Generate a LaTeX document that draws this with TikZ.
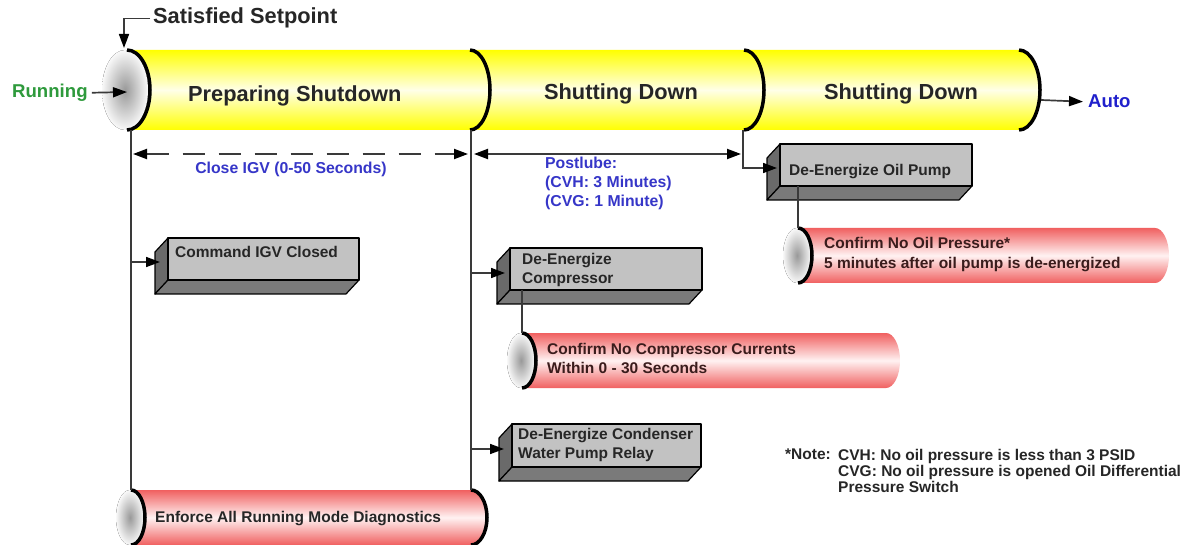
\documentclass[tikz,border=0pt]{standalone}
\usepackage{fontspec}
\setmainfont{Liberation Sans}
\usetikzlibrary{arrows.meta}
\definecolor{yel}{HTML}{FFFF00}
\definecolor{yellite}{HTML}{FFFFE8}
\definecolor{redc}{HTML}{F06060}
\definecolor{redlite}{HTML}{FFF2F2}
\definecolor{boxfront}{HTML}{C2C2C2}
\definecolor{boxside}{HTML}{6A6A6A}
\definecolor{boxbot}{HTML}{7A7A7A}
\definecolor{txt}{HTML}{262626}
\definecolor{redtxt}{HTML}{3A1C1C}
\definecolor{grn}{HTML}{2E9A3C}
\definecolor{blu}{HTML}{2020CC}
\definecolor{lblu}{HTML}{3636C8}
\definecolor{lin}{HTML}{3A3A3A}
\newcommand{\cylbody}[8]{%
 \path[#8] (#1,#3) -- (#2,#3) arc[start angle=-90,end angle=90,x radius=#6,y radius=#7] -- (#1,#4) arc[start angle=90,end angle=-90,x radius=#5,y radius=#7] -- cycle;}
\newcommand{\cylcap}[4]{%
 \fill[capshade] (#1,#2) ellipse[x radius=#3,y radius=#4];}
\newcommand{\cylarc}[4]{%
 \draw[line width=3.5pt] (#1,#2) arc[start angle=-90,end angle=90,x radius=#3,y radius=#4];}
\newcommand{\gbox}[4]{%
 \filldraw[boxedge,fill=boxside] (#1,#2) -- (#1-13,#2+14) -- (#1-13,#4+14) -- (#1,#4) -- cycle;
 \filldraw[boxedge,fill=boxbot] (#1,#4) -- (#3,#4) -- (#3-13,#4+14) -- (#1-13,#4+14) -- cycle;
 \filldraw[boxedge,fill=boxfront] (#1,#2) rectangle (#3,#4);}
\tikzset{
 capshade/.style={inner color=gray!80,outer color=gray!5},
 yelshade/.style={top color=yel,bottom color=yel,middle color=yellite},
 redshade/.style={top color=redc,bottom color=redc,middle color=redlite},
 boxedge/.style={draw=black,line width=1.2pt,line join=round},
 conn/.style={draw=lin,line width=1.7pt},
 tip/.style={-{Triangle[length=14pt,width=10pt,color=black]}},
 dimline/.style={draw=lin,line width=2pt,{Triangle[length=14pt,width=10pt,color=black]}-{Triangle[length=14pt,width=10pt,color=black]}},
 bigtxt/.style={inner sep=0pt,text=txt,font=\fontsize{21.8}{26}\selectfont\bfseries},
 sidetxt/.style={inner sep=0pt,font=\fontsize{18.6}{22}\selectfont\bfseries},
 lbl/.style={inner sep=0pt,text=lblu,font=\fontsize{15.8}{19}\selectfont\bfseries,align=left},
 boxtxt/.style={inner sep=0pt,text=txt,font=\fontsize{15.5}{19}\selectfont\bfseries,align=left},
 redtext/.style={inner sep=0pt,text=redtxt,font=\fontsize{15.5}{19}\selectfont\bfseries,align=left},
 notetxt/.style={inner sep=0pt,text=txt,font=\fontsize{15.5}{16}\selectfont\bfseries,align=left}
}
\begin{document}
\begin{tikzpicture}[x=1pt,y=-1pt]
\useasboundingbox (0,0) rectangle (1186,545);
\fill[white] (0,0) rectangle (1186,545);
% ---- main timeline cylinder
\cylbody{127}{1019}{50}{130}{23}{21}{40}{yelshade}
\cylcap{125}{90}{23}{40}
\cylarc{127}{50}{23}{40}
\cylarc{470}{50}{20}{40}
\cylarc{744}{50}{20}{40}
\cylarc{1019}{50}{21}{40}
\coordinate (spTip) at (124,48);
\coordinate (runTip) at (127,92);
\coordinate (endR) at (1041,100);
\coordinate (s1b) at (131,130);
\coordinate (s2b) at (471,130);
\coordinate (s3b) at (743,130);
% ---- stage labels
\node[bigtxt,anchor=base west] (sp) at (153,24) {Satisfied Setpoint};
\node[bigtxt,anchor=base west] (prep) at (188,102) {Preparing Shutdown};
\node[bigtxt,anchor=base] (sd1) at (621,100) {Shutting Down};
\node[bigtxt,anchor=base] (sd2) at (901,100) {Shutting Down};
\node[sidetxt,text=grn,anchor=base west] (run) at (12,97.5) {Running};
\node[sidetxt,text=blu,anchor=base west] (auto) at (1088,108) {Auto};
\draw[conn,tip] ([xshift=-3pt]sp.west) -| (spTip);
\draw[conn,tip] ([xshift=4pt]run.east) -- (runTip);
\draw[conn,tip] (endR) -- ([xshift=-5pt]auto.west);
% ---- dimension arrows
\coordinate (d1a) at (133,154);
\coordinate (d1b) at (468,154);
\coordinate (d2a) at (474,154);
\coordinate (d2b) at (741,154);
\draw[dimline,dash pattern=on 22pt off 14pt] (d1a) -- (d1b);
\draw[dimline] (d2a) -- (d2b);
\node[lbl,anchor=base] (igv) at (291,173.5) {Close IGV (0-50 Seconds)};
\node[lbl,anchor=north west] (post) at (545,157) {Postlube:\\(CVH: 3 Minutes)\\(CVG: 1 Minute)};
% ---- bottom red cylinder
\cylbody{131}{471}{490}{545}{14}{16}{27.5}{redshade}
\cylcap{130}{517.5}{14}{27.5}
\cylarc{131}{490}{14}{27.5}
\cylarc{471}{490}{16}{27.5}
\coordinate (enfL) at (131,490);
\coordinate (enfR) at (471,490);
\node[boxtxt,anchor=base west] (enf) at (155,522.5) {Enforce All Running Mode Diagnostics};
% ---- compressor red cylinder
\cylbody{522}{886}{333}{388}{14}{14}{27.5}{redshade}
\cylcap{521}{360.5}{14}{27.5}
\cylarc{522}{333}{14}{27.5}
\coordinate (ccT) at (522,333);
\node[redtext,anchor=north west] (cc) at (547,343.5) {Confirm No Compressor Currents\\Within 0 - 30 Seconds};
% ---- oil red cylinder
\cylbody{798}{1155}{228}{283}{14}{14}{27.5}{redshade}
\cylcap{797}{255.5}{14}{27.5}
\cylarc{798}{228}{14}{27.5}
\coordinate (opT) at (798,228);
\node[redtext,anchor=north west,font=\fontsize{15.5}{20}\selectfont\bfseries] (op) at (824,237.5) {Confirm No Oil Pressure*\\5 minutes after oil pump is de-energized};
% ---- vertical connectors
\draw[conn] (s1b) -- (enfL);
\draw[conn] (s2b) -- (enfR);
% ---- boxes
\gbox{168}{238}{359}{280}
\node[boxtxt,anchor=base west] (cmd) at (175,257.5) {Command IGV Closed};
\coordinate (cmdIn) at (160,262);
\gbox{510}{248}{702}{290}
\node[boxtxt,anchor=north west] (comp) at (522,253.5) {De-Energize\\Compressor};
\coordinate (compIn) at (505,273);
\coordinate (compB) at (522,290);
\gbox{780}{144}{972}{186}
\node[boxtxt,anchor=base west] (oil) at (789,175.5) {De-Energize Oil Pump};
\coordinate (oilIn) at (777,168);
\coordinate (oilB) at (798,186);
\gbox{512}{424}{701}{467}
\node[boxtxt,anchor=north west] (cond) at (518,428.5) {De-Energize Condenser\\Water Pump Relay};
\coordinate (condIn) at (504,449);
% ---- box connectors
\draw[conn,tip] (s1b |- cmdIn) -- (cmdIn);
\draw[conn,tip] (s2b |- compIn) -- (compIn);
\draw[conn,tip] (s2b |- condIn) -- (condIn);
\draw[conn,tip] (s3b) |- (oilIn);
\draw[conn] (compB) -- (ccT);
\draw[conn] (oilB) -- (opT);
% ---- note
\node[notetxt,anchor=north west] (noteH) at (785,449) {*Note:};
\node[notetxt,anchor=north west] (noteB) at (838,449) {CVH: No oil pressure is less than 3 PSID\\CVG: No oil pressure is opened Oil Differential\\Pressure Switch};
\end{tikzpicture}
\end{document}
